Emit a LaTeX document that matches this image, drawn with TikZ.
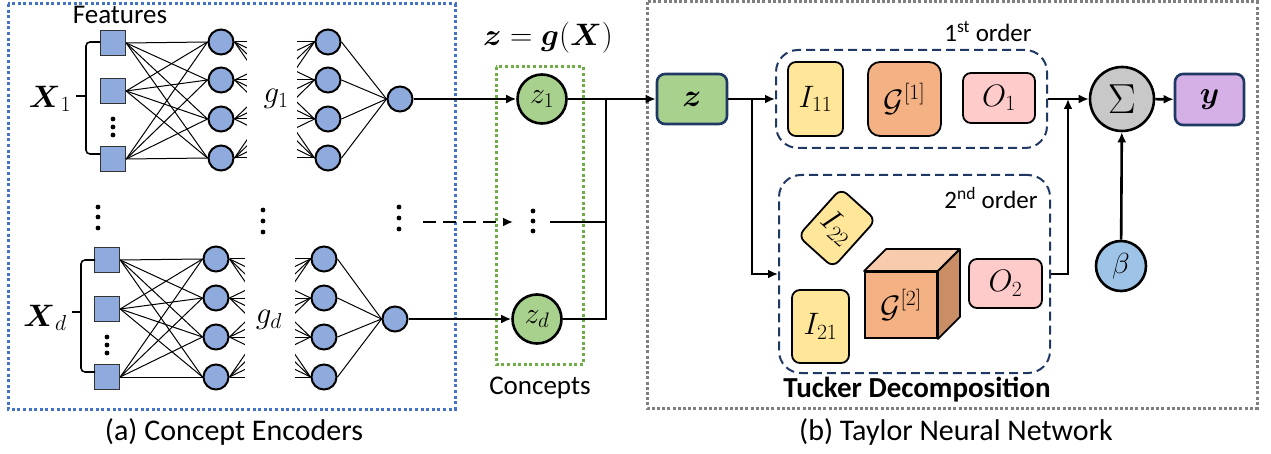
\RequirePackage{fix-cm}
\documentclass[tikz,border=0pt]{standalone}
\usepackage{amsmath}
\usepackage[no-math]{fontspec}
\setmainfont{Carlito}
\usetikzlibrary{arrows.meta,calc}
\definecolor{neu}{HTML}{8FAADC}
\definecolor{grn}{HTML}{A9D18E}
\definecolor{yel}{HTML}{FFE699}
\definecolor{ora}{HTML}{F4B183}
\definecolor{oratop}{HTML}{F8CBAD}
\definecolor{oraside}{HTML}{C98E66}
\definecolor{pnk}{HTML}{FFCACA}
\definecolor{pur}{HTML}{D4B0E6}
\definecolor{gry}{HTML}{C8C8C8}
\definecolor{bet}{HTML}{9DC3E6}
\definecolor{navy}{HTML}{203864}
\definecolor{bluebox}{HTML}{4472C4}
\definecolor{greenbox}{HTML}{70AD47}
\definecolor{graybox}{HTML}{7F7F7F}
\begin{document}
\begin{tikzpicture}[x=1pt,y=-1pt,
  neuron/.style={circle,draw=black,line width=2pt,fill=neu,minimum size=25pt,inner sep=0pt},
  feat/.style={rectangle,draw=black!80,line width=1.4pt,fill=neu,minimum size=25pt,inner sep=0pt},
  conn/.style={line width=1pt},
  wire/.style={line width=2.6pt},
  arr/.style={wire,-{Latex[length=10pt,width=9pt]}},
  concept/.style={circle,draw=black,line width=2.6pt,fill=grn,minimum size=49pt,inner sep=0pt,font=\fontsize{30}{34}\selectfont},
  ordbox/.style={draw=navy,line width=2pt,dash pattern=on 9pt off 5pt,rounded corners=22pt,inner sep=0pt},
  tbox/.style={draw=black,line width=1.8pt,rounded corners=8pt,inner sep=0pt,font=\fontsize{31}{35}\selectfont},
  vbox/.style={draw=navy,line width=2.6pt,rounded corners=8pt,inner sep=0pt,font=\fontsize{32}{36}\selectfont},
  lbl/.style={font=\fontsize{27}{32}\selectfont,inner sep=0pt},
  mlbl/.style={font=\fontsize{31}{35}\selectfont,inner sep=0pt},
  captxt/.style={font=\fontsize{30}{34}\selectfont,inner sep=0pt},
  dotbox/.style={line width=3pt,dash pattern=on 3pt off 2.6pt}
]
\useasboundingbox (0,0) rectangle (1271,454);

% ---------- frames ----------
\draw[dotbox,draw=bluebox] (8,4) rectangle (455,409);
\draw[dotbox,draw=greenbox] (496,67) rectangle (583,364);
\draw[dotbox,draw=graybox,dash pattern=on 3pt off 2.2pt] (647,2) rectangle (1257,408);

% ---------- upper encoder ----------
\node[lbl] (feats) at (120,15) {Features};
\foreach \i/\y in {1/43,2/91,3/159} \node[feat] (uf\i) at (113,\y) {};
\foreach \i/\y in {1/42,2/80,3/119,4/158} {
  \node[neuron] (uh\i) at (221,\y) {};
  \node[neuron] (ug\i) at (328,\y) {};
}
\node[neuron] (uo) at (400,99) {};
\foreach \i in {1,2,3} \foreach \j in {1,...,4} \draw[conn] (uf\i.east) -- (uh\j.west);
\foreach \i in {1,...,4} \foreach \j in {1,...,4} \draw[conn] (uh\i.east) -- (ug\j.west);
\foreach \j in {1,...,4} \draw[conn] (ug\j.east) -- (uo.west);
\fill[white] (247,25) rectangle (297,175);
\node[mlbl] (ug) at (276,99) {$g_1$};
\foreach \y in {119,127,135} \fill (113,\y) circle (2.4pt);
\draw[line width=1.6pt,rounded corners=4pt] (100,42) -- (86,42) -- (86,154) -- (100,154);
\draw[line width=1.6pt] (76,96) -- (86,96);
\node[mlbl] (ux) at (50,99) {$\boldsymbol{X}_1$};

% ---------- lower encoder ----------
\foreach \i/\y in {1/260,2/309,3/377} \node[feat] (lf\i) at (107,\y) {};
\foreach \i/\y in {1/259,2/298,3/337,4/377} {
  \node[neuron] (lh\i) at (216,\y) {};
  \node[neuron] (lg\i) at (324,\y) {};
}
\node[neuron] (lo) at (395,319) {};
\foreach \i in {1,2,3} \foreach \j in {1,...,4} \draw[conn] (lf\i.east) -- (lh\j.west);
\foreach \i in {1,...,4} \foreach \j in {1,...,4} \draw[conn] (lh\i.east) -- (lg\j.west);
\foreach \j in {1,...,4} \draw[conn] (lg\j.east) -- (lo.west);
\fill[white] (245,242) rectangle (295,394);
\node[mlbl] (lgl) at (269,320) {$g_d$};
\foreach \y in {337,345,353} \fill (107,\y) circle (2.4pt);
\draw[line width=1.6pt,rounded corners=4pt] (95,260) -- (81,260) -- (81,372) -- (95,372);
\draw[line width=1.6pt] (72,312) -- (81,312);
\node[mlbl] (lx) at (45,318) {$\boldsymbol{X}_d$};

% vertical dots between encoders
\foreach \y in {207,217,228} \fill (98,\y) circle (2.4pt);
\foreach \y in {210,221,232} \fill (263,\y) circle (2.4pt);
\foreach \y in {207,218,229} \fill (399,\y) circle (2.4pt);

% ---------- concepts ----------
\node[font=\fontsize{31}{36}\selectfont,inner sep=0pt] (zeq) at (548,38) {$\boldsymbol{z}=\boldsymbol{g}(\boldsymbol{X})$};
\node[concept] (z1) at (542,99) {$z_1$};
\node[concept] (zd) at (537,319) {$z_d$};
\foreach \y in {211,221,231} \fill (533,\y) circle (2.4pt);
\node[lbl] (conc) at (540,388) {Concepts};

\draw[arr] (uo) -- (z1);
\draw[arr] (lo) -- (zd);
\coordinate (dsS) at (423,222);
\coordinate (dsE) at (513,222);
\draw[arr,dash pattern=on 13pt off 7pt] (dsS) -- (dsE);

\node[vbox,fill=grn,minimum width=70pt,minimum height=50pt] (zb) at (692,99) {$\boldsymbol{z}$};
\coordinate (busT) at (606,99);
\coordinate (busM) at (606,222);
\coordinate (busB) at (606,319);
\coordinate (dl) at (550,222);
\draw[arr] (z1) -- (zb);
\draw[wire] (zd) -- (busB) -- (busT);
\draw[wire] (dl) -- (busM);

% ---------- Taylor network ----------
\node[ordbox,minimum width=271pt,minimum height=98pt] (ord1) at (911.5,99) {};
\node[ordbox,minimum width=271pt,minimum height=198pt] (ord2) at (914.5,274) {};
\node[font=\fontsize{25}{30}\selectfont,inner sep=0pt] (o1lab) at (988,32) {1\textsuperscript{st} order};
\node[font=\fontsize{25}{30}\selectfont,inner sep=0pt] (o2lab) at (991,198) {2\textsuperscript{nd} order};

\node[tbox,fill=yel,minimum width=55pt,minimum height=74pt] (i11) at (815.5,99) {$I_{11}$};
\node[tbox,fill=ora,rounded corners=12pt,minimum width=73pt,minimum height=74pt] (g1) at (904.5,99) {$\mathcal{G}^{[1]}$};
\node[tbox,fill=pnk,minimum width=72pt,minimum height=50pt] (o1) at (999,98) {$O_1$};

\node[tbox,fill=yel,rotate=-42,minimum width=47pt,minimum height=64pt] (i22) at (837,228) {$I_{22}$};
\node[tbox,fill=yel,minimum width=57pt,minimum height=73pt] (i21) at (820.5,326.5) {$I_{21}$};
\node[draw=black,line width=1.8pt,fill=ora,minimum width=72pt,minimum height=66pt,inner sep=0pt,font=\fontsize{31}{35}\selectfont] (g2) at (901,305) {$\mathcal{G}^{[2]}$};
\filldraw[fill=oratop,draw=black,line width=1.8pt,line join=round] (g2.north west) -- ++(22,-22) -- ($(g2.north east)+(22,-22)$) -- (g2.north east) -- cycle;
\filldraw[fill=oraside,draw=black,line width=1.8pt,line join=round] (g2.north east) -- ++(22,-22) -- ($(g2.south east)+(22,-22)$) -- (g2.south east) -- cycle;
\node[tbox,fill=pnk,minimum width=73pt,minimum height=49pt] (o2) at (1005.5,283.5) {$O_2$};
\node[font=\fontsize{29}{34}\selectfont\bfseries,inner sep=0pt] (tucker) at (917,390) {Tucker Decomposition};

\coordinate (br) at (752,99);
\draw[arr] (zb) -- (ord1);
\draw[arr] (br) |- (ord2);

\node[circle,draw=black,line width=2.6pt,fill=gry,minimum size=64pt,inner sep=0pt,font=\fontsize{42}{46}\selectfont] (sig) at (1122,99) {$\Sigma$};
\node[vbox,fill=pur,minimum width=69pt,minimum height=51pt,font=\fontsize{31}{35}\selectfont] (yb) at (1209.5,99.5) {$\boldsymbol{y}$};
\node[circle,draw=black,line width=2.6pt,fill=bet,minimum size=50pt,inner sep=0pt,font=\fontsize{29}{33}\selectfont] (beta) at (1121,266) {$\beta$};
\coordinate (jn) at (1068,99);
\draw[arr] (ord1) -- (sig);
\draw[arr] (ord2.east) -| (jn);
\draw[arr] (sig) -- (yb);
\draw[arr] (beta) -- (sig);

% ---------- captions ----------
\node[captxt] (capa) at (234,432) {(a) Concept Encoders};
\node[captxt] (capb) at (956,432) {(b) Taylor Neural Network};
\end{tikzpicture}
\end{document}
